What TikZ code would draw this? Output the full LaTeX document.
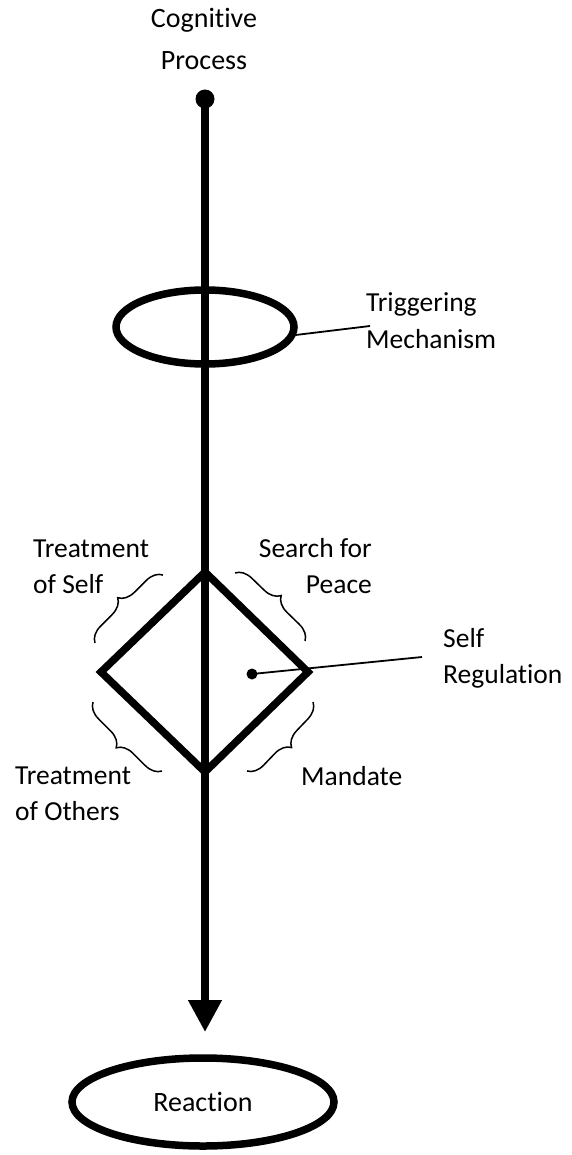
\documentclass[tikz,border=0pt]{standalone}
\usepackage{fontspec}
\setmainfont{Carlito}[Ligatures={NoCommon}]
\usetikzlibrary{shapes.geometric,arrows.meta,decorations.pathreplacing}
\tikzset{
  lbl/.style={inner sep=0pt, font=\fontsize{27.5}{36}\selectfont},
  thickline/.style={line width=7.5pt},
  leader/.style={line width=1.8pt},
  bracestyle/.style={line width=1.5pt, decorate, decoration={brace, amplitude=16pt}},
  oval/.style={draw, ellipse, line width=7.5pt, inner sep=0pt},
}
\begin{document}
\begin{tikzpicture}[x=1pt, y=-1pt]
\useasboundingbox (0,0) rectangle (571,1155);
% labels (base anchor = baseline of the last line)
\node[lbl, align=center, anchor=base, font=\fontsize{28}{42}\selectfont] (cog) at (204,70) {Cognitive\\Process};
\node[lbl, align=left, anchor=base west] (trigtxt) at (366,348) {Triggering\\Mechanism};
\node[lbl, align=left, anchor=base west] (tself) at (33,593) {Treatment\\of Self};
\node[lbl, align=right, anchor=base east] (peace) at (372,593) {Search for\\Peace};
\node[lbl, align=left, anchor=base west] (sreg) at (443,683) {Self\\Regulation};
\node[lbl, align=left, anchor=base west] (tothers) at (15,820) {Treatment\\of Others};
\node[lbl, anchor=base west] (mand) at (301,785) {Mandate};
% shapes
\node[oval, minimum width=178pt, minimum height=74pt] (trig) at (205,327) {};
\node[oval, minimum width=262pt, minimum height=88pt, font=\fontsize{28}{36}\selectfont] (react) at (203,1102) {Reaction};
\coordinate (dT) at (205,572);
\coordinate (dR) at (308,672);
\coordinate (dB) at (205,772);
\coordinate (dL) at (101,672);
\draw[thickline, line join=miter] (dT) -- (dR) -- (dB) -- (dL) -- cycle;
% main line
\node[circle, fill, inner sep=0pt, minimum size=19pt] (start) at (205,99) {};
\coordinate (tip) at (205,1032);
\draw[thickline, -{Triangle[length=32pt, width=32pt]}] (start.center) -- (tip);
% leaders
\coordinate (trigend) at (370,326);
\draw[leader] (trig.-5) -- (trigend);
\node[circle, fill, inner sep=0pt, minimum size=11pt] (sdot) at (252,674) {};
\coordinate (sregend) at (422,657);
\draw[leader] (sdot.center) -- (sregend);
% braces
\draw[bracestyle] (95,643) -- (163,575);
\draw[bracestyle] (235,573) -- (305,641);
\draw[bracestyle] (162,771) -- (93,702);
\draw[bracestyle] (313,702) -- (247,771);
\end{tikzpicture}
\end{document}
